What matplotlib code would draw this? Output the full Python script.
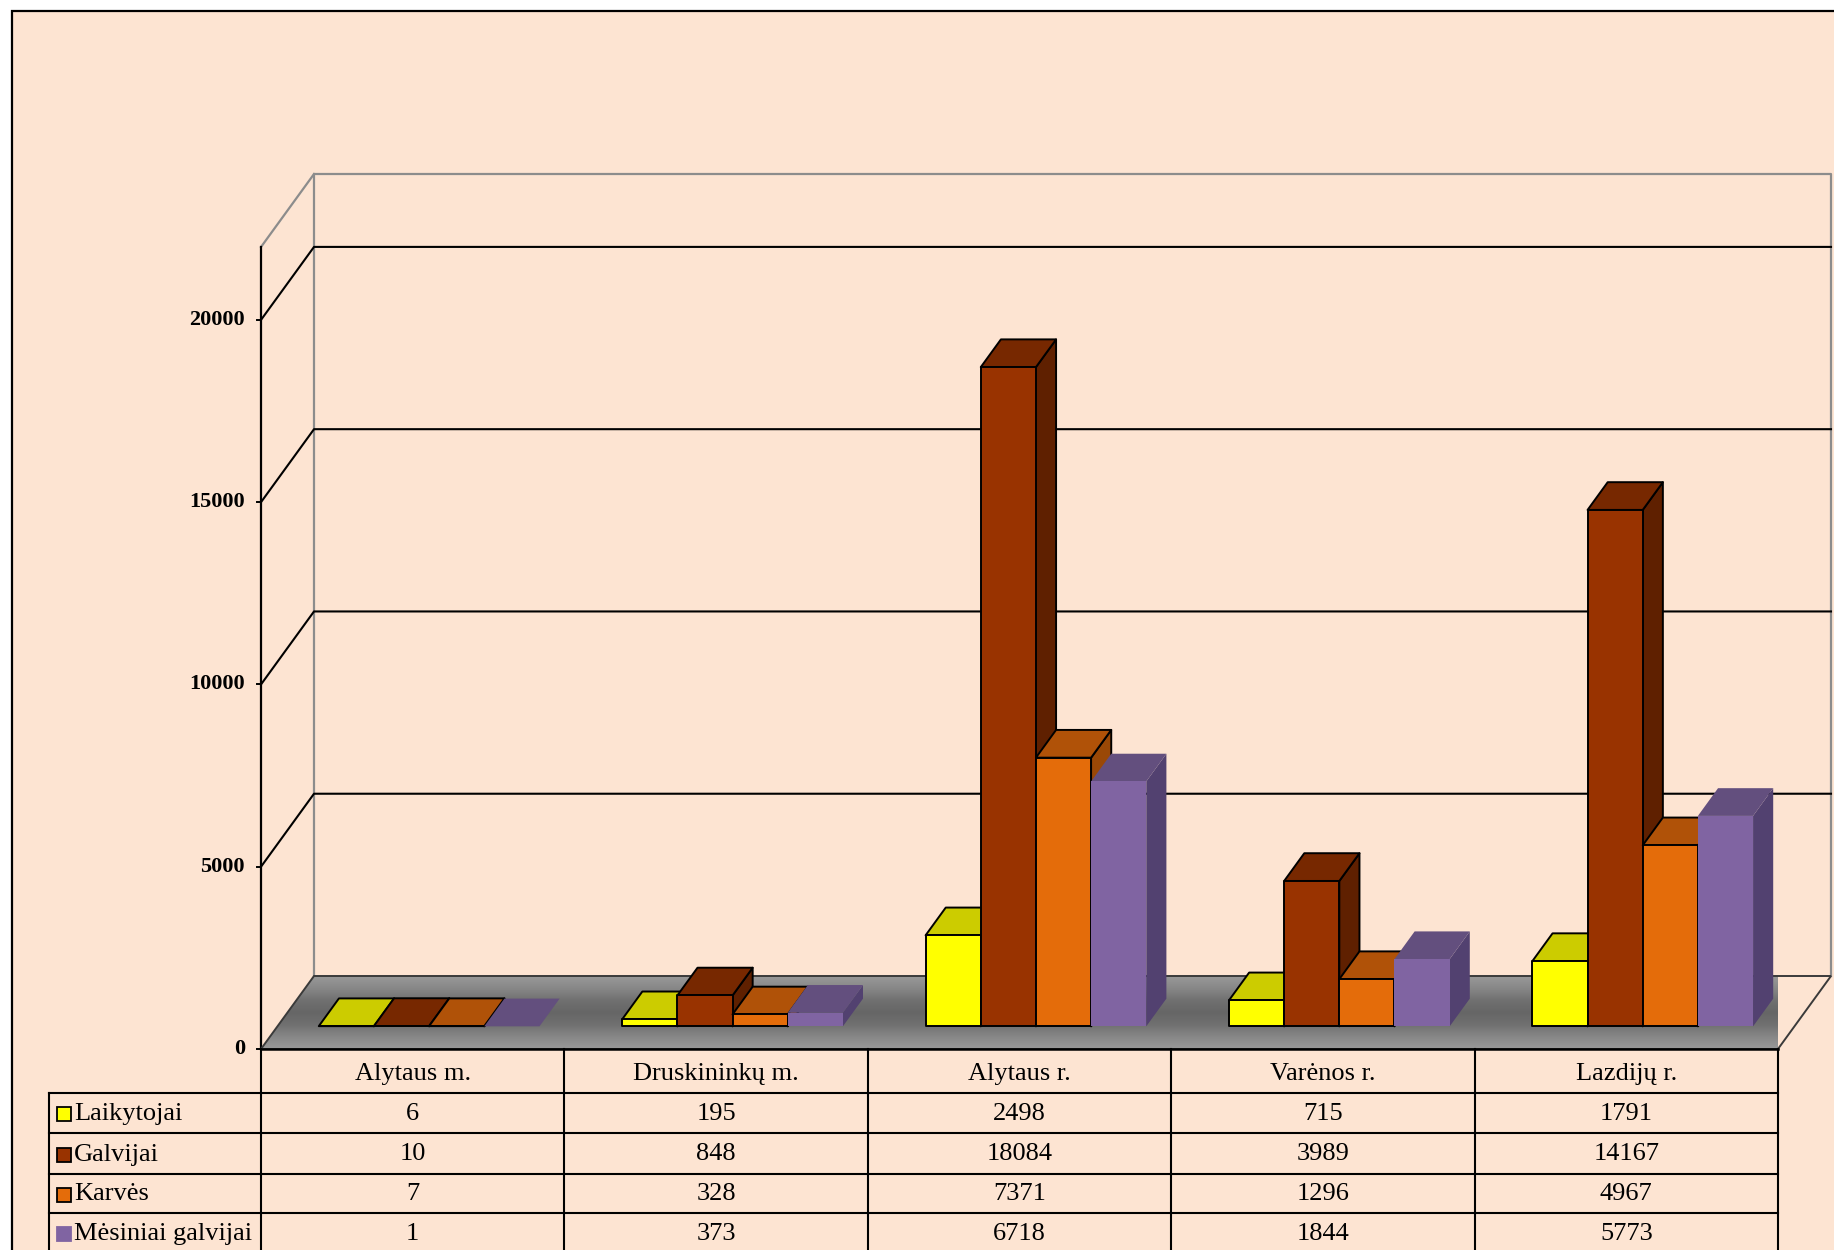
import numpy as np
import matplotlib
matplotlib.use("Agg")
import matplotlib.pyplot as plt
from matplotlib import transforms
from matplotlib.patches import Polygon, Rectangle
from matplotlib.lines import Line2D

# ---------------- data ----------------
categories = ["Alytaus m.", "Druskininkų m.", "Alytaus r.", "Varėnos r.", "Lazdijų r."]
series_names = ["Laikytojai", "Galvijai", "Karvės", "Mėsiniai galvijai"]
laikytojai = [6, 195, 2498, 715, 1791]
galvijai = [10, 848, 18084, 3989, 14167]
karves = [7, 328, 7371, 1296, 4967]
mesiniai = [1, 373, 6718, 1844, 5773]
series_values = [laikytojai, galvijai, karves, mesiniai]
y_ticks = [0, 5000, 10000, 15000, 20000]
y_max = 22000

# ---------------- style ----------------
BG = "#FDE4D2"
front_cols = ["#FFFF00", "#993300", "#E46C0A", "#8064A2"]
top_cols = ["#CCCC00", "#772800", "#B05208", "#634F7E"]
side_cols = ["#A3A300", "#5F2000", "#9A4806", "#524170"]
edge_cols = ["black", "black", "black", "none"]

W, H = 1834, 1250
fig = plt.figure(figsize=(W / 100, H / 100), dpi=100, facecolor="white")

# pixel transform with origin at top-left
pix = transforms.Affine2D().scale(1 / W, -1 / H).translate(0, 1) + fig.transFigure

# outer border / background
fig.patches.append(Rectangle((12, 11), 1900, 1300, transform=pix, facecolor=BG,
                             edgecolor="black", lw=1.6, zorder=-10))

# front plot area
fx0, fx1, fy_top, fy0 = 261, 1778, 247, 1049
ax = fig.add_axes([fx0 / W, (H - fy0) / H, (fx1 - fx0) / W, (fy0 - fy_top) / H])
ax.set_zorder(1)
ax.set_xlim(0, len(categories))
ax.set_ylim(0, y_max)
ax.axis("off")
ax.patch.set_alpha(0)

# depth vector (pixels) converted to data units
DEP_PX = (53.0, 73.0)
DX = DEP_PX[0] / ((fx1 - fx0) / len(categories))
DY = DEP_PX[1] / ((fy0 - fy_top) / y_max)


def P(x, v, d):
    return (x + d * DX, v + d * DY)


n_cat = len(categories)

# ---- back wall frame & gridlines ----
grey = "#8C8C8C"
ax.add_line(Line2D(*zip(P(0, 0, 1), P(0, y_max, 1), P(n_cat, y_max, 1), P(n_cat, 0, 1)),
                   color=grey, lw=1.6, clip_on=False, zorder=1))
ax.add_line(Line2D(*zip(P(0, y_max, 0), P(0, y_max, 1)), color=grey, lw=1.6,
                   clip_on=False, zorder=1))
for t in y_ticks[1:]:
    ax.add_line(Line2D(*zip(P(0, t, 0), P(0, t, 1), P(n_cat, t, 1)), color="black",
                       lw=1.5, clip_on=False, zorder=1))

# front value axis
ax.add_line(Line2D([0, 0], [0, y_max], color="black", lw=1.6, clip_on=False, zorder=2))
tick_len = 4 * (n_cat / (fx1 - fx0))
for t in y_ticks:
    ax.add_line(Line2D([-tick_len, 0], [t, t], color="black", lw=1.4, clip_on=False, zorder=2))
    ax.text(-16 * (n_cat / (fx1 - fx0)), t, str(t), ha="right", va="center",
            fontsize=16, fontweight="bold", family="Liberation Serif", color="black")

# ---- floor with gradient ----
floor_pts = [P(0, 0, 0), P(n_cat, 0, 0), P(n_cat, 0, 1), P(0, 0, 1)]
floor_poly = Polygon(floor_pts, closed=True, facecolor="none", edgecolor="#3A3A3A",
                     lw=1.4, clip_on=False, zorder=3.1)
ax.add_patch(floor_poly)
grad = np.array([0.60, 0.53, 0.44, 0.40, 0.44, 0.53, 0.60])
gy = np.interp(np.linspace(0, 6, 200), np.arange(7), grad)
img = ax.imshow(gy[:, None], cmap="gray", vmin=0, vmax=1, aspect="auto",
                extent=[0, n_cat + DX, 0, DY], origin="lower", zorder=3,
                interpolation="bilinear")
img.set_clip_on(True)
clip_poly = Polygon(floor_pts, closed=True, transform=ax.transData)
img.set_clip_path(clip_poly)
ax.add_line(Line2D([0, n_cat], [0, 0], color="black", lw=1.8, clip_on=False, zorder=3.2))
ax.set_xlim(0, n_cat)
ax.set_ylim(0, y_max)

# ---- bars ----
n_ser = len(series_values)
gap = 1.5
bw = 1.0 / (n_ser + gap)
d0, d1 = 0.31, 0.69
z = 4
for i in range(n_cat):
    for s in range(n_ser):
        v = series_values[s][i]
        x0 = i + gap / 2 * bw + s * bw
        x1 = x0 + bw
        ec = edge_cols[s]
        lw = 1.4 if ec != "none" else 0
        front = [P(x0, 0, d0), P(x1, 0, d0), P(x1, v, d0), P(x0, v, d0)]
        top = [P(x0, v, d0), P(x1, v, d0), P(x1, v, d1), P(x0, v, d1)]
        side = [P(x1, 0, d0), P(x1, 0, d1), P(x1, v, d1), P(x1, v, d0)]
        for pts, col in ((side, side_cols[s]), (top, top_cols[s]), (front, front_cols[s])):
            ax.add_patch(Polygon(pts, closed=True, facecolor=col, edgecolor=ec, lw=lw,
                                 joinstyle="round", clip_on=False, zorder=z))
            z += 0.001

# ---- data table ----
header_top, row_lines = 1049, [1093, 1133, 1174, 1213, 1253]
table_left = 49
xb = transforms.blended_transform_factory(ax.transData, pix)
tl = dict(color="black", lw=1.5, clip_on=False, zorder=6)
for k in range(n_cat + 1):
    ax.add_line(Line2D([k, k], [header_top, 1260], transform=xb, **tl))
for yl in row_lines:
    fig.add_artist(Line2D([table_left, fx1], [yl, yl], transform=pix, color="black", lw=1.5))
fig.add_artist(Line2D([table_left, table_left], [row_lines[0], 1260], transform=pix,
                      color="black", lw=1.5))

txt_kw = dict(fontsize=19, family="Liberation Serif", color="black")
for k, c in enumerate(categories):
    ax.text(k + 0.5, (header_top + row_lines[0]) / 2 + 3, c, transform=xb, ha="center",
            va="center", **txt_kw)
for s in range(n_ser):
    yc = (row_lines[s] + row_lines[s + 1]) / 2 + 1
    for k in range(n_cat):
        ax.text(k + 0.5, yc, str(series_values[s][k]), transform=xb, ha="center",
                va="center", **txt_kw)
    ec = edge_cols[s]
    fig.patches.append(Rectangle((57, yc - 7), 14, 14, transform=pix, facecolor=front_cols[s],
                                 edgecolor=ec if ec != "none" else front_cols[s],
                                 lw=1.3, zorder=7))
    fig.text(74 / W, 1 - yc / H, series_names[s], ha="left", va="center", **txt_kw)

fig.savefig("out.png", dpi=100, facecolor=fig.get_facecolor())
